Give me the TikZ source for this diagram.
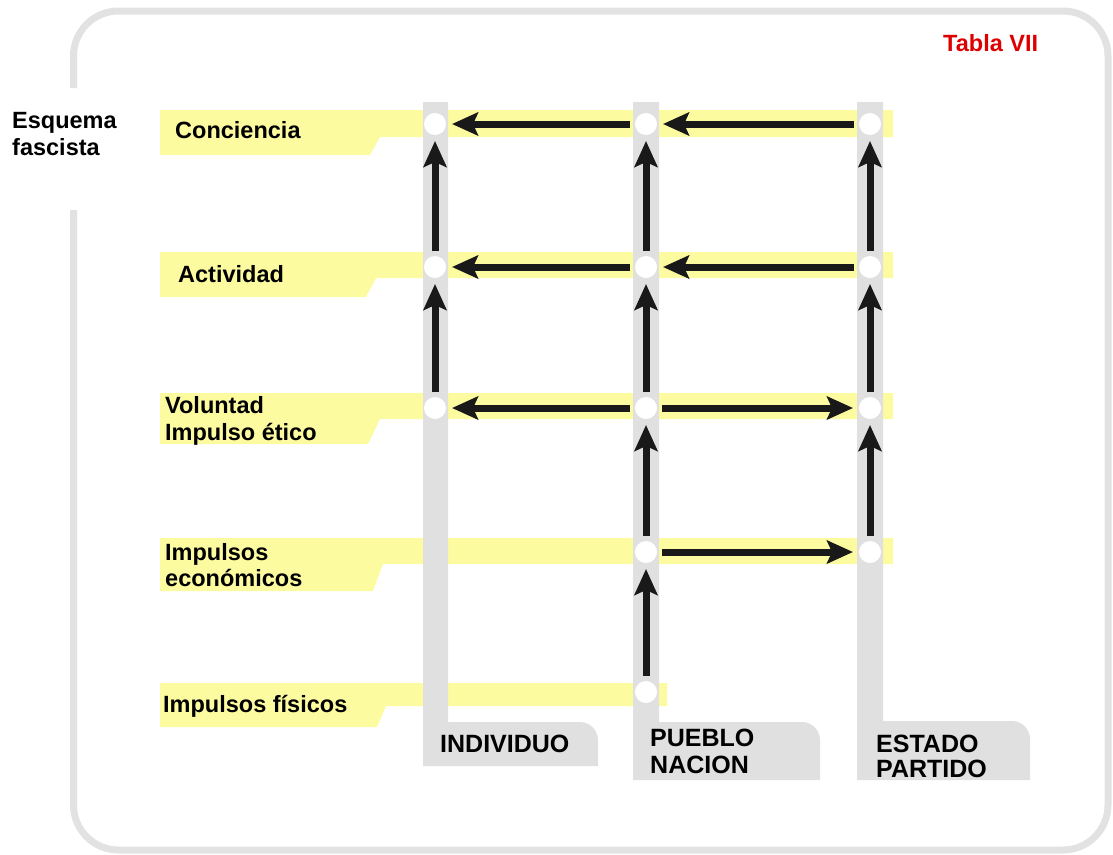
\documentclass[tikz,border=0pt]{standalone}
\usepackage{fontspec}
\setmainfont{Liberation Sans}
\usetikzlibrary{arrows.meta}
\definecolor{bandc}{RGB}{253,251,160}
\definecolor{barc}{RGB}{224,224,224}
\definecolor{framec}{RGB}{226,226,226}
\definecolor{titlec}{RGB}{222,0,0}
\begin{document}
\begin{tikzpicture}[x=1pt,y=-1pt,
  frame/.style={draw=framec,line width=7pt},
  band/.style={fill=bandc},
  bar/.style={fill=barc},
  dot/.style={circle,fill=white,minimum size=22pt,inner sep=0pt,outer sep=0pt},
  lbl/.style={inner sep=0pt,anchor=base west,font=\fontsize{23.5}{27}\selectfont\bfseries},
  collbl/.style={inner sep=0pt,anchor=base west,font=\fontsize{25}{27}\selectfont\bfseries},
  arr/.style={line width=7pt,black!90,-{Stealth[length=26pt,width=23pt,inset=5pt]},
              shorten >=6pt,shorten <=5pt}]
\useasboundingbox (0,0) rectangle (1113,854);

% outer frame, open on the left beside the title
\draw[frame,rounded corners=45] (73.5,88) -- (73.5,11) -- (1108,11) -- (1108,850) -- (73.5,850) -- (73.5,210);

% yellow level bands
\fill[band] (160,110) -- (893,110) -- (893,137) -- (380,137) -- (370,155) -- (160,155) -- cycle;
\fill[band] (160,252) -- (893,252) -- (893,278) -- (376,278) -- (366,297) -- (160,297) -- cycle;
\fill[band] (160,393) -- (893,393) -- (893,419) -- (380,419) -- (368,444) -- (160,444) -- cycle;
\fill[band] (160,538) -- (893,538) -- (893,564) -- (383,564) -- (373,591) -- (160,591) -- cycle;
\fill[band] (160,683) -- (667,683) -- (667,706) -- (386,706) -- (377,727) -- (160,727) -- cycle;

% grey columns with their label tabs
\fill[bar] (423,102) -- (448,102) -- (448,722) -- (580,722)
  .. controls (589.9,722) and (598,730.1) .. (598,740) -- (598,766) -- (423,766) -- cycle;
\fill[bar] (633,102) -- (659,102) -- (659,722) -- (802,722)
  .. controls (811.9,722) and (820,730.1) .. (820,740) -- (820,780) -- (633,780) -- cycle;
\fill[bar] (857,102) -- (883,102) -- (883,721) -- (1012,721)
  .. controls (1021.9,721) and (1030,729.1) .. (1030,739) -- (1030,780) -- (857,780) -- cycle;

% junction points
\node[dot] (IC) at (435,124) {};
\node[dot] (IA) at (435,267) {};
\node[dot] (IV) at (435,408) {};
\node[dot] (PC) at (646,124) {};
\node[dot] (PA) at (646,267) {};
\node[dot] (PV) at (646,408) {};
\node[dot] (PE) at (646,552) {};
\node[dot] (PF) at (646,692) {};
\node[dot] (EC) at (870,124) {};
\node[dot] (EA) at (870,267) {};
\node[dot] (EV) at (870,408) {};
\node[dot] (EE) at (870,552) {};

% horizontal flows
\draw[arr] (PC) -- (IC);
\draw[arr] (EC) -- (PC);
\draw[arr] (PA) -- (IA);
\draw[arr] (EA) -- (PA);
\draw[arr] (PV) -- (IV);
\draw[arr] (PV) -- (EV);
\draw[arr] (PE) -- (EE);

% vertical flows
\draw[arr] (IA) -- (IC);
\draw[arr] (IV) -- (IA);
\draw[arr] (PA) -- (PC);
\draw[arr] (PV) -- (PA);
\draw[arr] (PE) -- (PV);
\draw[arr] (PF) -- (PE);
\draw[arr] (EA) -- (EC);
\draw[arr] (EV) -- (EA);
\draw[arr] (EE) -- (EV);

% texts
\node[lbl] (t1) at (12,128) {Esquema};
\node[lbl] (t2) at (12,155) {fascista};
\node[lbl,text=titlec] (tab) at (943,51) {Tabla VII};
\node[lbl] (lc) at (175,138) {Conciencia};
\node[lbl] (la) at (178,282) {Actividad};
\node[lbl] (lv1) at (165,413) {Voluntad};
\node[lbl] (lv2) at (165,440) {Impulso ético};
\node[lbl] (le1) at (165,560) {Impulsos};
\node[lbl] (le2) at (165,586) {económicos};
\node[lbl] (lf) at (163,712) {Impulsos físicos};
\node[collbl] (ci) at (440,752) {INDIVIDUO};
\node[collbl] (cp1) at (650,746) {PUEBLO};
\node[collbl] (cp2) at (650,773) {NACION};
\node[collbl] (ce1) at (876,752) {ESTADO};
\node[collbl] (ce2) at (876,777) {PARTIDO};
\end{tikzpicture}
\end{document}
